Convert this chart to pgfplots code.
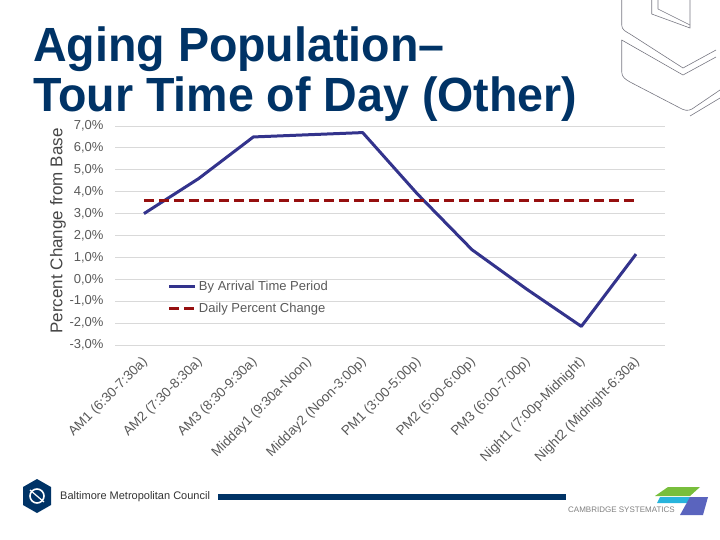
\documentclass[border=0pt]{standalone}
\usepackage{pgfplots}
\pgfplotsset{compat=1.18}
\usepackage{fontspec}
\setmainfont{Liberation Sans}
\newfontfamily\titlefont{Liberation Sans}[FakeStretch=0.97]
\definecolor{navy}{RGB}{0,51,102}
\definecolor{linenavy}{RGB}{51,51,140}
\definecolor{darkred}{RGB}{150,16,16}
\definecolor{tickgray}{RGB}{89,89,89}
\definecolor{labgray}{RGB}{70,70,70}
\definecolor{gridgray}{RGB}{217,217,217}
\definecolor{decogray}{RGB}{120,120,130}
\definecolor{csgreen}{RGB}{120,190,60}
\definecolor{cscyan}{RGB}{40,180,220}
\definecolor{csblue}{RGB}{90,100,190}
\pgfplotsset{myleg/.style={legend image code/.code={\draw[##1] (0pt,0pt) -- (26pt,0pt);}}}
\begin{document}
\begin{tikzpicture}[x=1pt,y=1pt]
\path[use as bounding box] (0,0) rectangle (720,-540);
% decoration top right
\begin{scope}[draw=decogray, line width=0.6pt]
\draw (621.7,0) -- (621.7,-25) to[out=-90,in=150] (630,-34) -- (683,-68) -- (716,-50);
\draw (621.7,-40) -- (683,-75) -- (716,-57);
\draw (621.7,-40) -- (621.7,-72) to[out=-90,in=150] (630,-82) -- (680,-108) to[out=-30,in=210] (692,-109) -- (720,-90);
\draw (651.7,0) -- (651.7,-14) -- (690,-28) -- (690,0);
\draw (658,0) -- (658,-9) -- (690,-25);
\draw (690,-116) -- (720,-98);
\end{scope}
% title
\node[anchor=base west, inner sep=0, text=navy, font=\titlefont\bfseries\fontsize{48}{53}\selectfont] at (33,-62) {Aging Population–};
\node[anchor=base west, inner sep=0, text=navy, font=\titlefont\bfseries\fontsize{48}{53}\selectfont] at (33,-112) {Tour Time of Day (Other)};
% y label
\node[rotate=90, text=labgray, font=\fontsize{17}{19}\selectfont] at (58,-231) {Percent Change from Base};
\begin{axis}[
  at={(115pt,-345pt)}, anchor=south west,
  width=550pt, height=219pt, scale only axis,
  xmin=-0.53, xmax=9.53, ymin=-3, ymax=7,
  axis line style={draw=none}, tick style={draw=none},
  ymajorgrids, grid style={gridgray, line width=1pt},
  ytick={-3,-2,-1,0,1,2,3,4,5,6,7},
  yticklabels={{-3,0\%},{-2,0\%},{-1,0\%},{0,0\%},{1,0\%},{2,0\%},{3,0\%},{4,0\%},{5,0\%},{6,0\%},{7,0\%}},
  yticklabel style={text=tickgray, font=\fontsize{13}{15}\selectfont, xshift=-8pt},
  xtick={0,1,2,3,4,5,6,7,8,9},
  xticklabels={{AM1 (6:30-7:30a)},{AM2 (7:30-8:30a)},{AM3 (8:30-9:30a)},{Midday1 (9:30a-Noon)},{Midday2 (Noon-3:00p)},{PM1 (3:00-5:00p)},{PM2 (5:00-6:00p)},{PM3 (6:00-7:00p)},{Night1 (7:00p-Midnight)},{Night2 (Midnight-6:30a)}},
  xticklabel style={xshift=-3pt, yshift=-9pt, rotate=45, anchor=north east, text=tickgray, font=\fontsize{13.5}{15}\selectfont, inner sep=1pt},
  legend style={at={(0.096,0.30)}, anchor=north west, draw=none, fill=none, text=tickgray, font=\fontsize{13}{15}\selectfont, row sep=7pt, inner sep=0pt},
  legend cell align=left,
  clip=false,
]
\addplot[linenavy, line width=3pt, line join=round, myleg]
  coordinates {(0,3.0) (1,4.6) (2,6.5) (3,6.6) (4,6.7) (5,3.9) (6,1.35) (7,-0.45) (8,-2.15) (9,1.15)};
\addlegendentry{By Arrival Time Period}
\addplot[darkred, line width=3pt, dash pattern=on 10pt off 5pt, myleg]
  coordinates {(0,3.6) (9,3.6)};
\addlegendentry{Daily Percent Change}
\end{axis}
% footer
\fill[navy] (37,-479) -- (51,-487) -- (51,-505) -- (37,-513) -- (23,-505) -- (23,-487) -- cycle;
\draw[white, line width=1.6pt] (37,-496) circle (7);
\draw[white, line width=1.2pt] (30,-490) -- (37,-496) -- (44,-502);
\node[anchor=west, inner sep=0, text=black!80, font=\fontsize{11}{12}\selectfont] at (60,-497) {Baltimore Metropolitan Council};
\fill[navy] (218,-494) rectangle (566,-499.5);
\node[anchor=west, inner sep=0, text=gray, font=\fontsize{8}{9}\selectfont] at (568,-510) {CAMBRIDGE SYSTEMATICS};
\fill[csgreen] (668,-487) -- (700,-487) -- (690,-496) -- (655,-496) -- cycle;
\fill[cscyan] (660,-497) -- (708,-497) -- (703,-503) -- (657,-503) -- cycle;
\fill[csblue] (690,-497) -- (708,-497) -- (703,-515) -- (680,-515) -- cycle;
\end{tikzpicture}
\end{document}
